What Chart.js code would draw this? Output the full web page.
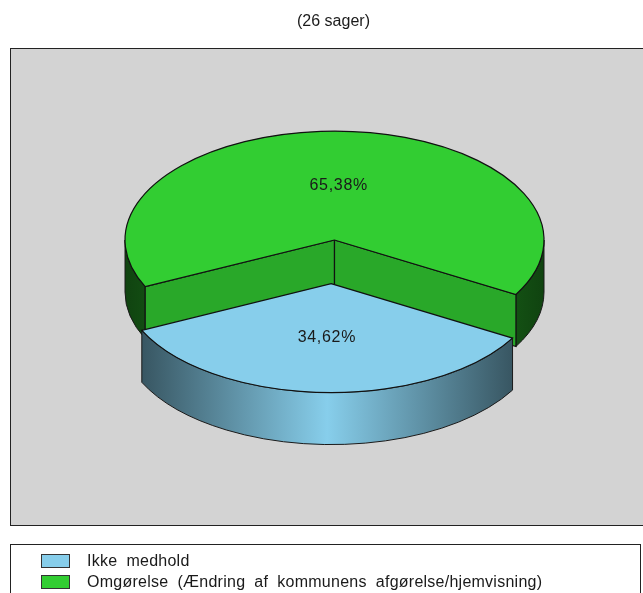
<!DOCTYPE html>
<html>
<head>
<meta charset="utf-8">
<style>html,body{margin:0;padding:0;background:#fff;overflow:hidden}canvas{display:block}</style>
<script src="https://cdn.jsdelivr.net/npm/chart.js@4"></script>
</head>
<body>
<canvas id="c" width="643" height="593"></canvas>
<script>
const titleText = '(26 sager)';
const categories = ['Ikke medhold', 'Omgørelse (Ændring af kommunens afgørelse/hjemvisning)'];
const values = [34.62, 65.38];
const colors = ['#87CEEB', '#32CD32'];
const explode = [84, 0];

const FONT = '16px "Liberation Sans", Arial, sans-serif';
const TILT = 0.52, DEPTH = 52, CX = 334.5, CY = 240;

function shade(hex, f) {
  const n = parseInt(hex.slice(1), 16);
  return `rgb(${((n >> 16) & 255) * f | 0},${((n >> 8) & 255) * f | 0},${(n & 255) * f | 0})`;
}
function place(arc, d) {
  const mid = (arc.startAngle + arc.endAngle) / 2;
  return { x: CX + Math.cos(mid) * d, y: CY + Math.sin(mid) * d * TILT, r: arc.outerRadius, mid };
}
function frontRanges(s, e) {
  const out = [];
  for (let n = -1; n < 3; n++) {
    const a = Math.max(s, n * 2 * Math.PI), b = Math.min(e, n * 2 * Math.PI + Math.PI);
    if (b > a) out.push([a, b]);
  }
  return out;
}
function wall(ctx, p, a, b, base, dark, mid, left, right) {
  const g = ctx.createLinearGradient(left, 0, right, 0);
  g.addColorStop(0, shade(base, dark));
  g.addColorStop(0.5, shade(base, mid));
  g.addColorStop(1, shade(base, dark));
  ctx.beginPath();
  ctx.ellipse(p.x, p.y + DEPTH, p.r, p.r * TILT, 0, a, b);
  ctx.ellipse(p.x, p.y, p.r, p.r * TILT, 0, b, a, true);
  ctx.closePath();
  ctx.fillStyle = g; ctx.fill();
  ctx.strokeStyle = '#1a1a1a'; ctx.lineWidth = 1; ctx.stroke();
}
function face(ctx, p, a, base) {
  const ex = p.x + Math.cos(a) * p.r, ey = p.y + Math.sin(a) * p.r * TILT;
  ctx.beginPath();
  ctx.moveTo(p.x, p.y); ctx.lineTo(ex, ey); ctx.lineTo(ex, ey + DEPTH); ctx.lineTo(p.x, p.y + DEPTH);
  ctx.closePath();
  ctx.fillStyle = shade(base, 0.82); ctx.fill();
  ctx.strokeStyle = '#111'; ctx.lineWidth = 1.2; ctx.stroke();
}

const pie3d = {
  id: 'pie3d',
  beforeDraw(chart) {
    const ctx = chart.ctx;
    ctx.save();
    ctx.fillStyle = '#fff'; ctx.fillRect(0, 0, chart.width, chart.height);
    ctx.fillStyle = '#D3D3D3'; ctx.fillRect(10.5, 48.5, 660, 477);
    ctx.strokeStyle = '#222'; ctx.lineWidth = 1; ctx.strokeRect(10.5, 48.5, 660, 477);
    ctx.fillStyle = '#fff'; ctx.fillRect(10.5, 544.5, 630, 70);
    ctx.strokeRect(10.5, 544.5, 630, 70);
    ctx.restore();
  },
  beforeDatasetsDraw(chart) {
    const ctx = chart.ctx, meta = chart.getDatasetMeta(0);
    const area = chart.chartArea;
    ctx.save();
    const order = meta.data.map((a, i) => i).sort((a, b) => explode[a] - explode[b]);
    for (const i of order) {
      const arc = meta.data[i], p = place(arc, explode[i]);
      if (explode[i] === 0) {
        for (const [a, b] of frontRanges(arc.startAngle, arc.endAngle)) {
          wall(ctx, p, a, b, colors[i], 0.33, 0.8, p.x - p.r, p.x + p.r);
        }
        face(ctx, p, arc.startAngle, colors[i]);
        face(ctx, p, arc.endAngle, colors[i]);
      } else {
        const l = p.x + Math.cos(arc.endAngle) * p.r, r = p.x + Math.cos(arc.startAngle) * p.r;
        wall(ctx, p, arc.startAngle, arc.endAngle, colors[i], 0.42, 1, l, r);
      }
    }
    ctx.restore();
    ctx.save();
    ctx.translate(CX, CY); ctx.scale(1, TILT);
    ctx.translate(-(area.left + area.right) / 2, -(area.top + area.bottom) / 2);
  },
  afterDatasetsUpdate(chart) {
    const meta = chart.getDatasetMeta(0);
    meta.data.forEach((arc, i) => {
      const mid = (arc.startAngle + arc.endAngle) / 2;
      arc.x += Math.cos(mid) * explode[i];
      arc.y += Math.sin(mid) * explode[i];
    });
  },
  afterDatasetsDraw(chart) {
    const ctx = chart.ctx, meta = chart.getDatasetMeta(0);
    ctx.restore();
    ctx.save();
    meta.data.forEach((arc, i) => {
      const p = place(arc, explode[i]);
      ctx.beginPath();
      ctx.moveTo(p.x, p.y);
      ctx.ellipse(p.x, p.y, p.r, p.r * TILT, 0, arc.startAngle, arc.endAngle);
      ctx.closePath();
      ctx.strokeStyle = '#111'; ctx.lineWidth = 1.2; ctx.stroke();
    });
    ctx.font = FONT; ctx.fillStyle = '#1a1a1a';
    ctx.textAlign = 'center'; ctx.textBaseline = 'middle';
    ctx.letterSpacing = '0.7px';
    meta.data.forEach((arc, i) => {
      const p = place(arc, explode[i]);
      const lx = p.x + Math.cos(p.mid) * p.r / 2, ly = p.y + Math.sin(p.mid) * p.r * TILT / 2;
      ctx.fillText(values[i].toFixed(2).replace('.', ',') + '%', lx, ly);
    });
    ctx.textAlign = 'left';
    ctx.letterSpacing = '0.25px';
    ctx.wordSpacing = '4.4px';
    categories.forEach((label, i) => {
      const y = 554.5 + i * 21;
      ctx.fillStyle = colors[i]; ctx.fillRect(41.5, y, 28, 13);
      ctx.strokeStyle = '#333'; ctx.lineWidth = 1; ctx.strokeRect(41.5, y, 28, 13);
      ctx.fillStyle = '#1a1a1a';
      ctx.fillText(label, 87, y + 7);
    });
    ctx.restore();
  }
};

const canvas = document.getElementById('c');

new Chart(canvas, {
  type: 'pie',
  data: {
    labels: categories,
    datasets: [{
      data: values,
      backgroundColor: colors,
      borderWidth: 0,
      clip: false
    }]
  },
  plugins: [pie3d],
  options: {
    responsive: false,
    animation: false,
    events: [],
    rotation: 120,
    radius: 209.5,
    layout: { padding: { left: 24 } },
    plugins: {
      legend: { display: false },
      tooltip: { enabled: false },
      title: {
        display: true,
        text: titleText,
        color: '#1a1a1a',
        font: { family: '"Liberation Sans", Arial, sans-serif', size: 16, weight: 'normal' },
        padding: { top: 12, bottom: 0 }
      }
    }
  }
});
</script>
</body>
</html>
